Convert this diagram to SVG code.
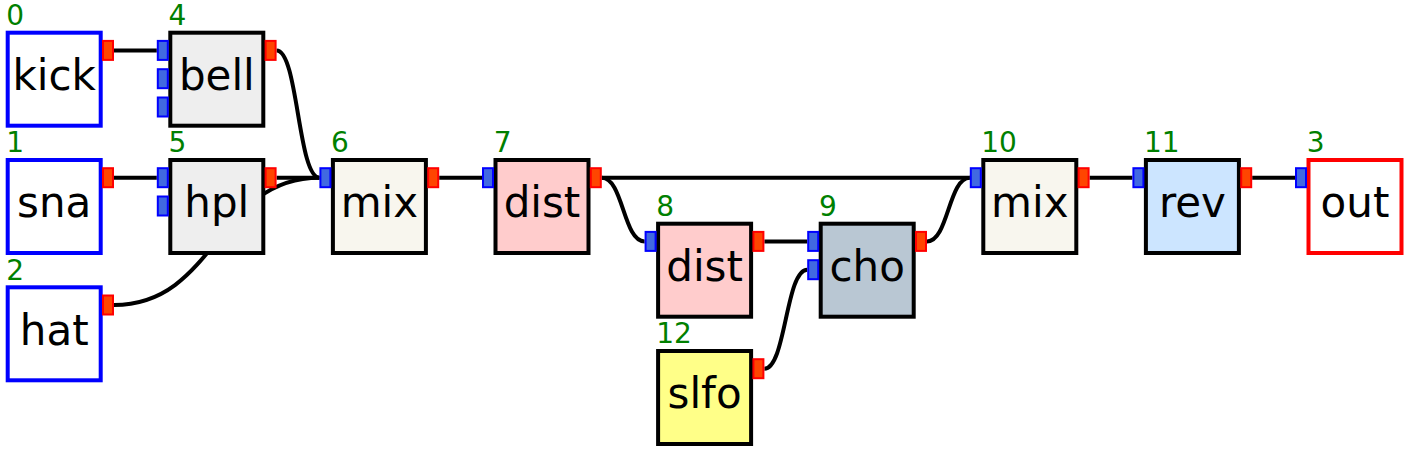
<svg xmlns="http://www.w3.org/2000/svg" width="1410" height="450" viewBox="0 0 1410 450">
<style>
.box{stroke:#000;stroke-width:4}
.src{fill:#fff;stroke:#0000ff;stroke-width:4}
.dst{fill:#fff;stroke:#ff0000;stroke-width:4}
.gen{fill:#eeeeee}
.mix{fill:#f8f6ee}
.dist{fill:#ffcccc}
.cho{fill:#b9c7d3}
.rev{fill:#cce5ff}
.lfo{fill:#ffff88}
.pin{fill:#4169e1;stroke:#0000ff;stroke-width:2}
.pout{fill:#ff4500;stroke:#ff0000;stroke-width:2}
.name{font-family:"DejaVu Sans",sans-serif;font-size:42px;fill:#000;text-anchor:middle}
.idx{font-family:"DejaVu Sans",sans-serif;font-size:28px;fill:#008000}
.wire{fill:none;stroke:#000;stroke-width:4}
</style>
<g id="connectors">
<path class="wire" d="M114,50.4 L156.8,50.4"/>
<path class="wire" d="M276.6,50.4 C298,50.4 298,177.7 319.4,177.7"/>
<path class="wire" d="M114,177.7 L156.8,177.7"/>
<path class="wire" d="M276.6,177.7 L319.4,177.7"/>
<path class="wire" d="M114,305 C216.7,305 216.7,177.7 319.4,177.7"/>
<path class="wire" d="M439.2,177.7 L482,177.7"/>
<path class="wire" d="M601.8,177.7 L969.8,177.7"/>
<path class="wire" d="M601.8,177.7 C623.2,177.7 623.2,241.4 644.6,241.4"/>
<path class="wire" d="M764.4,241.4 L807.2,241.4"/>
<path class="wire" d="M764.4,368.7 C785.8,368.7 785.8,269.7 807.2,269.7"/>
<path class="wire" d="M927,241.4 C948.4,241.4 948.4,177.7 969.8,177.7"/>
<path class="wire" d="M1089.6,177.7 L1132.4,177.7"/>
<path class="wire" d="M1252.2,177.7 L1295,177.7"/>
</g>
<g id="node0">
<rect class="src" x="7.7" y="32.7" width="93" height="93"/>
<rect class="pout" x="103" y="40.9" width="10" height="19"/>
<text class="idx" x="6.3" y="25">0</text>
<text class="name" x="54.2" y="90">kick</text>
</g>
<g id="node1">
<rect class="src" x="7.7" y="160" width="93" height="93"/>
<rect class="pout" x="103" y="168.2" width="10" height="19"/>
<text class="idx" x="6.3" y="152.3">1</text>
<text class="name" x="54.2" y="217.3">sna</text>
</g>
<g id="node2">
<rect class="src" x="7.7" y="287.3" width="93" height="93"/>
<rect class="pout" x="103" y="295.5" width="10" height="19"/>
<text class="idx" x="6.3" y="279.6">2</text>
<text class="name" x="54.2" y="344.6">hat</text>
</g>
<g id="node4">
<rect class="box gen" x="170.3" y="32.7" width="93" height="93"/>
<rect class="pin" x="157.8" y="40.9" width="10" height="19"/>
<rect class="pin" x="157.8" y="69.2" width="10" height="19"/>
<rect class="pin" x="157.8" y="97.5" width="10" height="19"/>
<rect class="pout" x="265.6" y="40.9" width="10" height="19"/>
<text class="idx" x="168.5" y="25">4</text>
<text class="name" x="216.8" y="90">bell</text>
</g>
<g id="node5">
<rect class="box gen" x="170.3" y="160" width="93" height="93"/>
<rect class="pin" x="157.8" y="168.2" width="10" height="19"/>
<rect class="pin" x="157.8" y="196.5" width="10" height="19"/>
<rect class="pout" x="265.6" y="168.2" width="10" height="19"/>
<text class="idx" x="168.5" y="152.3">5</text>
<text class="name" x="216.8" y="217.3">hpl</text>
</g>
<g id="node6">
<rect class="box mix" x="332.9" y="160" width="93" height="93"/>
<rect class="pin" x="320.4" y="168.2" width="10" height="19"/>
<rect class="pout" x="428.2" y="168.2" width="10" height="19"/>
<text class="idx" x="331.1" y="152.3">6</text>
<text class="name" x="379.4" y="217.3">mix</text>
</g>
<g id="node7">
<rect class="box dist" x="495.5" y="160" width="93" height="93"/>
<rect class="pin" x="483" y="168.2" width="10" height="19"/>
<rect class="pout" x="590.8" y="168.2" width="10" height="19"/>
<text class="idx" x="493.7" y="152.3">7</text>
<text class="name" x="542" y="217.3">dist</text>
</g>
<g id="node8">
<rect class="box dist" x="658.1" y="223.7" width="93" height="93"/>
<rect class="pin" x="645.6" y="231.9" width="10" height="19"/>
<rect class="pout" x="753.4" y="231.9" width="10" height="19"/>
<text class="idx" x="656.3" y="216">8</text>
<text class="name" x="704.6" y="281">dist</text>
</g>
<g id="node12">
<rect class="box lfo" x="658.1" y="351" width="93" height="93"/>
<rect class="pout" x="753.4" y="359.2" width="10" height="19"/>
<text class="idx" x="656.3" y="343.3">12</text>
<text class="name" x="704.6" y="408.3">slfo</text>
</g>
<g id="node9">
<rect class="box cho" x="820.7" y="223.7" width="93" height="93"/>
<rect class="pin" x="808.2" y="231.9" width="10" height="19"/>
<rect class="pin" x="808.2" y="260.2" width="10" height="19"/>
<rect class="pout" x="916" y="231.9" width="10" height="19"/>
<text class="idx" x="818.9" y="216">9</text>
<text class="name" x="867.2" y="281">cho</text>
</g>
<g id="node10">
<rect class="box mix" x="983.3" y="160" width="93" height="93"/>
<rect class="pin" x="970.8" y="168.2" width="10" height="19"/>
<rect class="pout" x="1078.6" y="168.2" width="10" height="19"/>
<text class="idx" x="981.3" y="152.3">10</text>
<text class="name" x="1029.8" y="217.3">mix</text>
</g>
<g id="node11">
<rect class="box rev" x="1145.9" y="160" width="93" height="93"/>
<rect class="pin" x="1133.4" y="168.2" width="10" height="19"/>
<rect class="pout" x="1241.2" y="168.2" width="10" height="19"/>
<text class="idx" x="1143.9" y="152.3">11</text>
<text class="name" x="1192.4" y="217.3">rev</text>
</g>
<g id="node3">
<rect class="dst" x="1308.5" y="160" width="93" height="93"/>
<rect class="pin" x="1296" y="168.2" width="10" height="19"/>
<text class="idx" x="1306.7" y="152.3">3</text>
<text class="name" x="1355" y="217.3">out</text>
</g>
</svg>
